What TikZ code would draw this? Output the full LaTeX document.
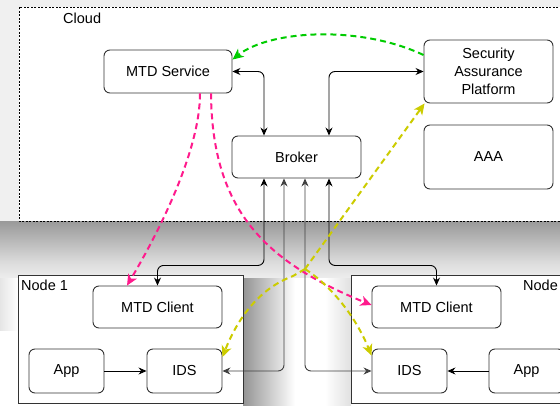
\documentclass[tikz,border=0pt]{standalone}
\usepackage{fontspec}
\setmainfont{Liberation Sans}
\usetikzlibrary{arrows.meta,calc}
\definecolor{mypink}{HTML}{FF1A8C}
\definecolor{mygreen}{HTML}{00CC00}
\definecolor{myyellow}{HTML}{CCCC00}
\definecolor{boxline}{HTML}{333333}
\tikzset{
  box/.style={draw=boxline, line width=0.9pt, rounded corners=6pt, fill=white,
    align=center, inner sep=0pt, font=\fontsize{14.5}{18}\selectfont},
  region/.style={draw=boxline, line width=1pt, fill=white},
  conn/.style={line width=0.9pt, rounded corners=6pt, {Stealth[length=8pt,width=7pt]}-{Stealth[length=8pt,width=7pt]}},
  oneway/.style={line width=0.9pt, -{Stealth[length=8pt,width=7pt]}},
  greyconn/.style={conn, draw=black!75},
  pinkline/.style={draw=mypink, line width=2pt, dash pattern=on 6pt off 4pt, -{Stealth[length=11pt,width=10pt,inset=3pt]}},
  greenline/.style={draw=mygreen, line width=2pt, dash pattern=on 6pt off 4pt, -{Stealth[length=11pt,width=10pt,inset=3pt]}},
  yellowline/.style={draw=myyellow, line width=2pt, dash pattern=on 6pt off 4pt},
  ytip/.style={-{Stealth[length=11pt,width=10pt,inset=3pt]}},
  lbl/.style={font=\fontsize{14.5}{18}\selectfont, inner sep=0pt}
}
\begin{document}
\begin{tikzpicture}[x=1pt,y=-1pt]
\useasboundingbox (0,0) rectangle (560,405);
\clip (0,0) rectangle (560,405);
% background and shadows
\fill[black!6] (0,0) rectangle (560,7);
\fill[black!6] (0,0) rectangle (19,221);
\shade[top color=black!40, bottom color=black!14] (0,221) rectangle (560,262);
\shade[top color=black!14, bottom color=black!7] (0,262) rectangle (560,278);
\shade[left color=black!10, right color=white] (0,278) rectangle (18,330);
\shade[left color=black!42, right color=white] (243,278) rectangle (295,405);
\fill[white] (295,278) rectangle (325,405);
\shade[left color=white, right color=black!12] (325,278) rectangle (351,405);
% cloud region
\draw[fill=white, line width=0.8pt, dash pattern=on 2pt off 1.5pt] (19,7) rectangle (575,221);
\node[lbl, anchor=base west] (cloudlbl) at (63,23) {Cloud};
% node regions
\draw[region] (18,275) rectangle (243,403);
\draw[region] (351,275) rectangle (575,403);
\node[lbl, anchor=base west] (n1lbl) at (21,290) {Node 1};
\node[lbl, anchor=base west] (n2lbl) at (523,290) {Node};
% cloud boxes
\node[box, minimum width=128pt, minimum height=43pt] (mtd) at (168,71.5) {MTD Service};
\node[box, minimum width=129pt, minimum height=63pt] (sap) at (488.5,71.5) {Security\\Assurance\\Platform};
\node[box, minimum width=129pt, minimum height=64pt] (aaa) at (488.5,157) {AAA};
\node[box, minimum width=129pt, minimum height=42pt] (broker) at (296.5,157) {Broker};
% node 1 boxes
\node[box, minimum width=129pt, minimum height=42pt] (mc1) at (157.5,307) {MTD Client};
\node[box, minimum width=75pt, minimum height=44pt] (app1) at (66.5,371) {App};
\node[box, minimum width=75pt, minimum height=44pt] (ids1) at (184.5,371) {IDS};
% node 2 boxes
\node[box, minimum width=129pt, minimum height=42pt] (mc2) at (436.5,307) {MTD Client};
\node[box, minimum width=75pt, minimum height=44pt] (ids2) at (409.5,371) {IDS};
\node[box, minimum width=75pt, minimum height=44pt] (app2) at (526.5,371) {App};
% black connectors
\draw[conn] (mtd.east) -| ([xshift=-32.5pt]broker.north);
\draw[conn] (sap.west) -| ([xshift=32.5pt]broker.north);
\draw[conn] ([xshift=-32.5pt]broker.south) -- ++(0,87) -| (mc1.north);
\draw[conn] ([xshift=32.5pt]broker.south) -- ++(0,87) -| (mc2.north);
\draw[greyconn] ([xshift=-12.5pt]broker.south) |- (ids1.east);
\draw[greyconn] ([xshift=8.5pt]broker.south) |- (ids2.west);
\draw[oneway] (app1.east) -- (ids1.west);
\draw[oneway] (app2.west) -- (ids2.east);
% dashed coloured connectors
\draw[greenline] ([yshift=16.5pt]sap.west) .. controls (360,25) and (270,30) .. ([yshift=-10pt]mtd.north east);
\draw[pinkline] ([xshift=32pt]mtd.south) .. controls (200,150) and (160,230) .. ([xshift=-30.5pt]mc1.north);
\draw[pinkline] ([xshift=43pt]mtd.south) .. controls (212,210) and (265,262) .. ([yshift=2pt]mc2.west);
\coordinate (yj) at (305,269);
\coordinate (yk) at (293,276);
\draw[yellowline, ytip] (yj) -- ([xshift=1pt]sap.south west);
\draw[yellowline, ytip] (yj) -- (yk) .. controls (255,290) and (235,325) .. ([yshift=14pt]ids1.east);
\draw[yellowline, ytip] (yj) .. controls (330,285) and (355,315) .. ([yshift=-7pt]ids2.north west);
\end{tikzpicture}
\end{document}
